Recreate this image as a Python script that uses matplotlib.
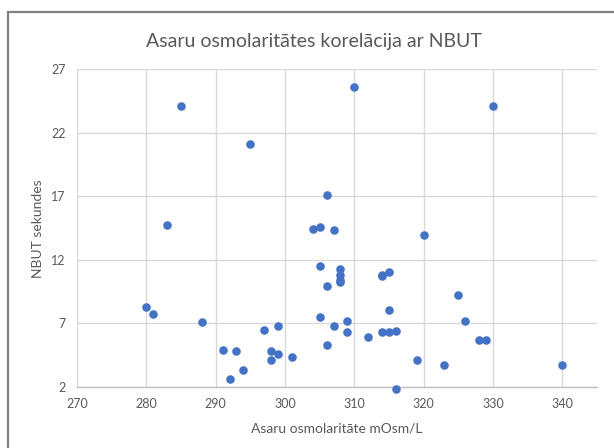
import matplotlib
matplotlib.use("Agg")
import matplotlib.pyplot as plt
from matplotlib.patches import Rectangle

osmolarity = [285, 295, 306, 283, 304, 305, 307, 310, 330, 320,
              305, 306, 280, 281, 288, 305, 307, 297, 299, 306,
              291, 293, 298, 299, 298, 301, 294, 292, 308, 308,
              308, 308, 314, 314, 315, 325, 315, 309, 326, 309,
              312, 314, 315, 316, 328, 329, 319, 323, 340, 316]
nbut = [24.1, 21.1, 17.1, 14.7, 14.4, 14.6, 14.3, 25.6, 24.1, 13.9,
        11.5, 9.9, 8.3, 7.7, 7.1, 7.5, 6.8, 6.5, 6.8, 5.3,
        4.9, 4.8, 4.8, 4.6, 4.1, 4.3, 3.3, 2.6, 11.3, 10.8,
        10.4, 10.2, 10.8, 10.7, 11.0, 9.2, 8.0, 7.2, 7.2, 6.3,
        5.9, 6.3, 6.3, 6.4, 5.7, 5.7, 4.1, 3.7, 3.7, 1.8]

x_ticks = [270, 280, 290, 300, 310, 320, 330, 340]
y_ticks = [2, 7, 12, 17, 22, 27]

title = "Asaru osmolaritātes korelācija ar NBUT"
x_label = "Asaru osmolaritāte mOsm/L"
y_label = "NBUT sekundes"

plt.rcParams['font.family'] = ['Lato', 'DejaVu Sans']

W, H = 614, 448
fig = plt.figure(figsize=(W / 100, H / 100), dpi=100)
fig.patch.set_facecolor('white')

# chart area border (extends beyond the right/bottom edges)
fig.patches.append(Rectangle((8 / W, -0.2), 1.2, 1 - 12 / H + 0.2,
                             transform=fig.transFigure, fill=False,
                             edgecolor='#808080', linewidth=1.6))

left, right = 77 / W, 597 / W
top, bottom = 1 - 69 / H, 1 - 386.7 / H
ax = fig.add_axes([left, bottom, right - left, top - bottom])

ax.scatter(osmolarity, nbut, s=38, color='#4472C4', zorder=3,
           clip_on=False, linewidths=0)

ax.set_xlim(270, 345)
ax.set_ylim(2, 27)
ax.set_xticks(x_ticks)
ax.set_yticks(y_ticks)
ax.grid(True, color='#d9d9d9', linewidth=1.0, zorder=0)
ax.set_axisbelow(True)
for s in ['top', 'right', 'left']:
    ax.spines[s].set_visible(False)
ax.spines['bottom'].set_color('#bfbfbf')
ax.spines['bottom'].set_linewidth(1.0)
ax.tick_params(length=0, labelsize=9, labelcolor='#595959', pad=8)

fig.text(314 / W, 1 - 42 / H, title, ha='center', va='center',
         fontsize=14, color='#595959')
fig.text(337 / W, 1 - 428 / H, x_label, ha='center', va='center',
         fontsize=10, color='#595959')
fig.text(38 / W, 1 - 229 / H, y_label, ha='center', va='center',
         rotation=90, fontsize=10, color='#595959')

fig.savefig('out.png', dpi=100)
